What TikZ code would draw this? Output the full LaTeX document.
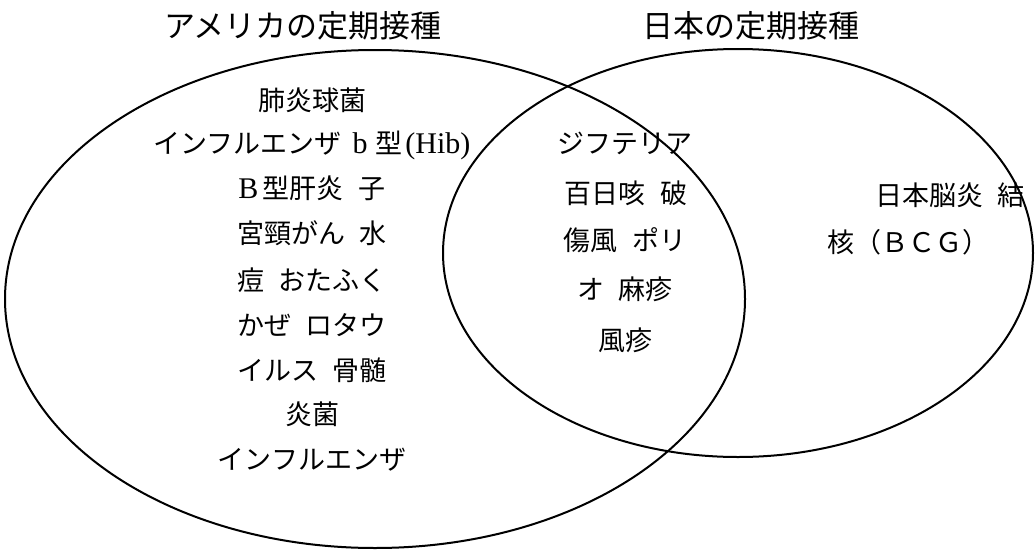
\documentclass[tikz,border=0pt]{standalone}
\usepackage{fontspec}
\setmainfont{Liberation Serif}
\newfontfamily\jp{Noto Sans CJK JP}
\newcommand{\lt}[1]{{\rmfamily\fontsize{30}{32}\selectfont #1}}
\newcommand{\gp}{\hspace{0.55em}}
\begin{document}
\begin{tikzpicture}[x=1pt,y=-1pt,
  every node/.style={inner sep=0pt, outer sep=0pt},
  body/.style={font=\fontsize{27}{32}\selectfont\jp},
  ttl/.style={font=\fontsize{31}{36}\selectfont\jp},
  setline/.style={line width=2pt}]
\useasboundingbox (0,0) rectangle (1036,554);
\draw[setline] (375,299) ellipse [x radius=370pt, y radius=249pt];
\draw[setline] (738,253) ellipse [x radius=295pt, y radius=204pt];
\node[ttl] (tus) at (303,26) {アメリカの定期接種};
\node[ttl] (tjp) at (751,26) {日本の定期接種};
% left
\node[body] (l1) at (312,100) {肺炎球菌};
\node[body] (l2) at (312,145) {インフルエンザ\hspace{0.4em}\lt{b}\hspace{0.3em}型\hspace{0.1em}\lt{(Hib)}};
\node[body] (l3) at (312,188) {\lt{B}\,型肝炎\gp 子};
\node[body] (l4) at (312,233) {宮頸がん\gp 水};
\node[body] (l5) at (312,280) {痘\gp おたふく};
\node[body] (l6) at (312,325) {かぜ\gp ロタウ};
\node[body] (l7) at (312,370) {イルス\gp 骨髄};
\node[body] (l8) at (312,414) {炎菌};
\node[body] (l9) at (312,460) {インフルエンザ};
% middle
\node[body] (m1) at (625,143) {ジフテリア};
\node[body] (m2) at (626,193) {百日咳\gp 破};
\node[body] (m3) at (625,240) {傷風\gp ポリ};
\node[body] (m4) at (625,289) {オ\gp 麻疹};
\node[body] (m5) at (625,340) {風疹};
% right
\node[body, anchor=west] (r1) at (875,195) {日本脳炎\gp 結};
\node[body, anchor=west] (r2) at (827,242) {核（ＢＣＧ）};
\end{tikzpicture}
\end{document}
